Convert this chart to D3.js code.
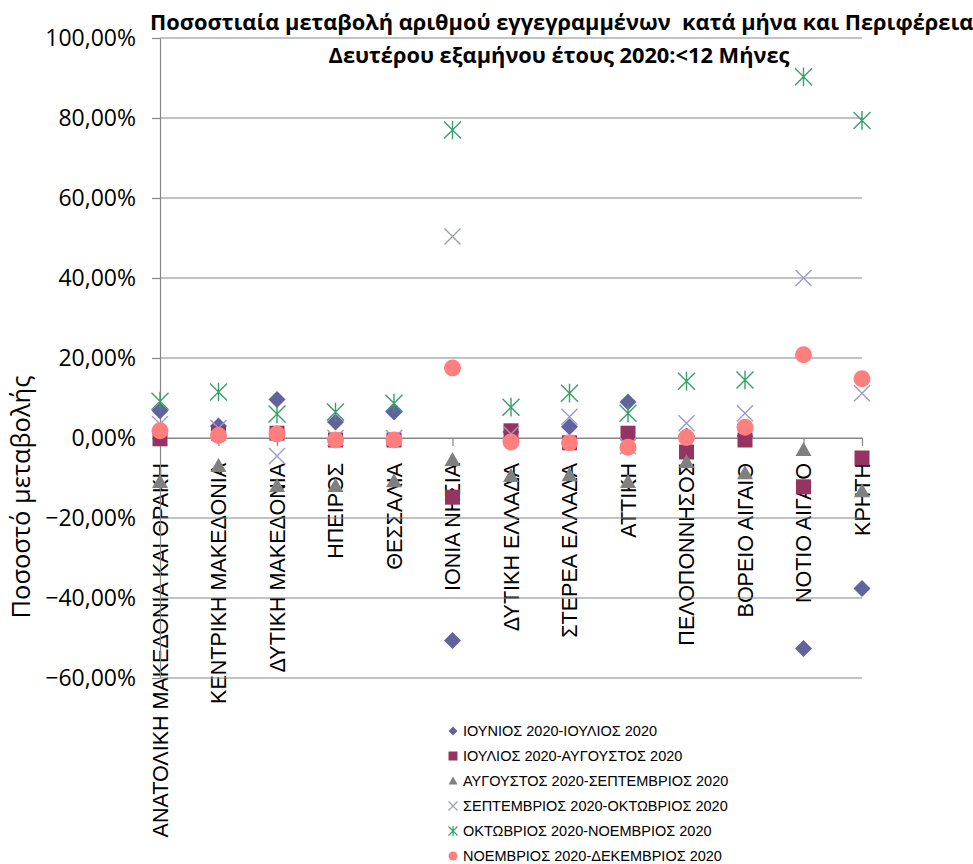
<!DOCTYPE html>
<html>
<head>
<meta charset="utf-8">
<script src="https://cdn.jsdelivr.net/npm/d3@7"></script>
<style>
  body { margin: 0; background: #fff; }
  text { font-family: "Open Sans", sans-serif; }
</style>
</head>
<body>
<script>
// regions on the category axis
let categories = ["ΑΝΑΤΟΛΙΚΗ ΜΑΚΕΔΟΝΙΑ ΚΑΙ ΘΡΑΚΗ", "ΚΕΝΤΡΙΚΗ ΜΑΚΕΔΟΝΙΑ", "ΔΥΤΙΚΗ ΜΑΚΕΔΟΝΙΑ",
  "ΗΠΕΙΡΟΣ", "ΘΕΣΣΑΛΙΑ", "ΙΟΝΙΑ ΝΗΣΙΑ", "ΔΥΤΙΚΗ ΕΛΛΑΔΑ", "ΣΤΕΡΕΑ ΕΛΛΑΔΑ", "ΑΤΤΙΚΗ",
  "ΠΕΛΟΠΟΝΝΗΣΟΣ", "ΒΟΡΕΙΟ ΑΙΓΑΙΟ", "ΝΟΤΙΟ ΑΙΓΑΙΟ", "ΚΡΗΤΗ"];

let seriesNames = ["ΙΟΥΝΙΟΣ 2020-ΙΟΥΛΙΟΣ 2020", "ΙΟΥΛΙΟΣ 2020-ΑΥΓΟΥΣΤΟΣ 2020",
  "ΑΥΓΟΥΣΤΟΣ 2020-ΣΕΠΤΕΜΒΡΙΟΣ 2020", "ΣΕΠΤΕΜΒΡΙΟΣ 2020-ΟΚΤΩΒΡΙΟΣ 2020",
  "ΟΚΤΩΒΡΙΟΣ 2020-ΝΟΕΜΒΡΙΟΣ 2020", "ΝΟΕΜΒΡΙΟΣ 2020-ΔΕΚΕΜΒΡΙΟΣ 2020"];

// percent change per region
let junJul = [6.8, 3.0, 9.6, 4.0, 6.5, -50.6, 1.5, 2.8, 9.0, 0.5, 0.5, -52.6, -37.6];
let julAug = [-0.2, 1.2, 1.2, -0.5, -0.5, -14.8, 1.8, -1.2, 1.2, -3.5, -0.5, -12.2, -5.0];
let augSep = [-11.0, -7.0, -12.0, -12.0, -10.8, -5.5, -9.5, -9.3, -11.0, -6.0, -8.8, -3.0, -13.3];
let sepOct = [3.5, 2.5, -4.5, 0.0, 0.0, 50.4, 1.0, 5.3, -2.0, 3.7, 6.2, 40.0, 11.2];
let octNov = [9.2, 11.5, 6.0, 6.5, 8.7, 77.0, 7.7, 11.2, 6.2, 14.2, 14.5, 90.3, 79.4];
let novDec = [1.8, 0.6, 1.0, -0.5, -0.5, 17.5, -1.0, -1.2, -2.3, 0.1, 2.7, 20.8, 14.8];

let yTicks = [-60, -40, -20, 0, 20, 40, 60, 80, 100];

let allSeries = [junJul, julAug, augSep, sepOct, octNov, novDec];
let colors = ["#62629e", "#953462", "#808080", "#9a9acb", "#3a9e6a", "#ff7f7f"];
let shapes = ["diamond", "square", "triangle", "x", "star", "circle"];

let width = 973, height = 864;
let svg = d3.select("body").append("svg")
  .attr("width", width)
  .attr("height", height);

let xScale = d3.scalePoint().domain(categories).range([160, 862]);
let yScale = d3.scaleLinear().domain([-60, 100]).range([678, 38]);

// marker paths, r = half size
function markerPath(shape, r) {
  if (shape == "diamond") return "M0," + (-r) + "L" + r + ",0L0," + r + "L" + (-r) + ",0Z";
  if (shape == "square") return "M" + (-r) + "," + (-r) + "h" + (2*r) + "v" + (2*r) + "h" + (-2*r) + "Z";
  if (shape == "triangle") return "M0," + (-r) + "L" + r + "," + (r*0.75) + "L" + (-r) + "," + (r*0.75) + "Z";
  if (shape == "x") return "M" + (-r) + "," + (-r) + "L" + r + "," + r + "M" + (-r) + "," + r + "L" + r + "," + (-r);
  if (shape == "star") return "M" + (-r) + "," + (-r) + "L" + r + "," + r + "M" + (-r) + "," + r + "L" + r + "," + (-r) + "M0," + (-r*1.1) + "L0," + (r*1.1);
  if (shape == "circle") return d3.symbol(d3.symbolCircle, Math.PI * r * r)();
}
function isStroked(shape) { return shape == "x" || shape == "star"; }

// category labels (drawn first so lines and markers sit on top)
svg.append("g").selectAll("text")
  .data(categories)
  .enter()
  .append("text")
  .attr("transform", function(d){ return "translate(" + xScale(d) + ",463) rotate(-90)"; })
  .attr("dy", "0.36em")
  .style("text-anchor", "end")
  .style("font-family", "'Liberation Sans', Arial, sans-serif")
  .style("font-size", "21.5px")
  .style("fill", "#000")
  .text(function(d){ return d; });

// gridlines
svg.append("g").selectAll("line")
  .data(yTicks)
  .enter()
  .append("line")
  .attr("x1", 160).attr("x2", 862)
  .attr("y1", function(d){ return yScale(d); })
  .attr("y2", function(d){ return yScale(d); })
  .attr("stroke", "#868686")
  .attr("stroke-width", 1.2);

// y axis
let yAxis = d3.axisLeft(yScale).tickValues(yTicks).tickSizeInner(8).tickSizeOuter(0).tickPadding(16)
  .tickFormat(function(d){ return d3.format(".2f")(d).replace(".", ",") + "%"; });
let gy = svg.append("g")
  .attr("transform", "translate(160,0)")
  .call(yAxis);
gy.select(".domain").attr("stroke", "#868686").attr("stroke-width", 1.2);
gy.selectAll(".tick line").attr("stroke", "#868686").attr("stroke-width", 1.2);
gy.selectAll(".tick text")
  .style("font-family", "'Open Sans', sans-serif")
  .style("font-size", "23px")
  .style("fill", "#000");

// category axis at 0 with ticks
let xAxis = d3.axisBottom(xScale).tickSizeInner(8).tickSizeOuter(0).tickFormat("");
let gx = svg.append("g")
  .attr("transform", "translate(0," + yScale(0) + ")")
  .call(xAxis);
gx.select(".domain").attr("stroke", "#868686").attr("stroke-width", 1.2);
gx.selectAll(".tick line").attr("stroke", "#868686").attr("stroke-width", 1.2);

// y axis title
svg.append("text")
  .attr("transform", "translate(30,497) rotate(-90)")
  .style("text-anchor", "middle")
  .style("font-size", "25.5px")
  .style("fill", "#000")
  .text("Ποσοστό μεταβολής");

// markers
let sizes = [8.5, 7.5, 8, 8, 8.5, 8.5];
allSeries.forEach(function(vals, s) {
  svg.append("g").selectAll("path")
    .data(vals)
    .enter()
    .append("path")
    .attr("transform", function(d, i){ return "translate(" + xScale(categories[i]) + "," + yScale(d) + ")"; })
    .attr("d", markerPath(shapes[s], sizes[s]))
    .attr("fill", isStroked(shapes[s]) ? "none" : colors[s])
    .attr("stroke", isStroked(shapes[s]) ? colors[s] : "none")
    .attr("stroke-width", 1.4);
});

// title (on top of the 100% gridline)
let title = svg.append("text")
  .style("font-weight", "bold")
  .style("font-size", "21.8px")
  .style("fill", "#000")
  .style("white-space", "pre");
title.append("tspan").attr("x", 150).attr("y", 30)
  .text("Ποσοστιαία μεταβολή αριθμού εγγεγραμμένων  κατά μήνα και Περιφέρεια");
title.append("tspan").attr("x", 559).attr("y", 63).style("text-anchor", "middle")
  .text("Δευτέρου εξαμήνου έτους 2020:<12 Μήνες");

// legend
let legend = svg.append("g").selectAll("g")
  .data(seriesNames)
  .enter()
  .append("g")
  .attr("transform", function(d, i){ return "translate(453," + (731 + i*25) + ")"; });
legend.append("path")
  .attr("d", function(d, i){ return markerPath(shapes[i], 4.5); })
  .attr("fill", function(d, i){ return isStroked(shapes[i]) ? "none" : colors[i]; })
  .attr("stroke", function(d, i){ return isStroked(shapes[i]) ? colors[i] : "none"; })
  .attr("stroke-width", 1.2);
legend.append("text")
  .attr("x", 10)
  .attr("dy", "0.36em")
  .style("font-family", "'Liberation Sans', Arial, sans-serif")
  .style("font-size", "14.5px")
  .style("fill", "#000")
  .text(function(d){ return d; });
</script>
</body>
</html>
